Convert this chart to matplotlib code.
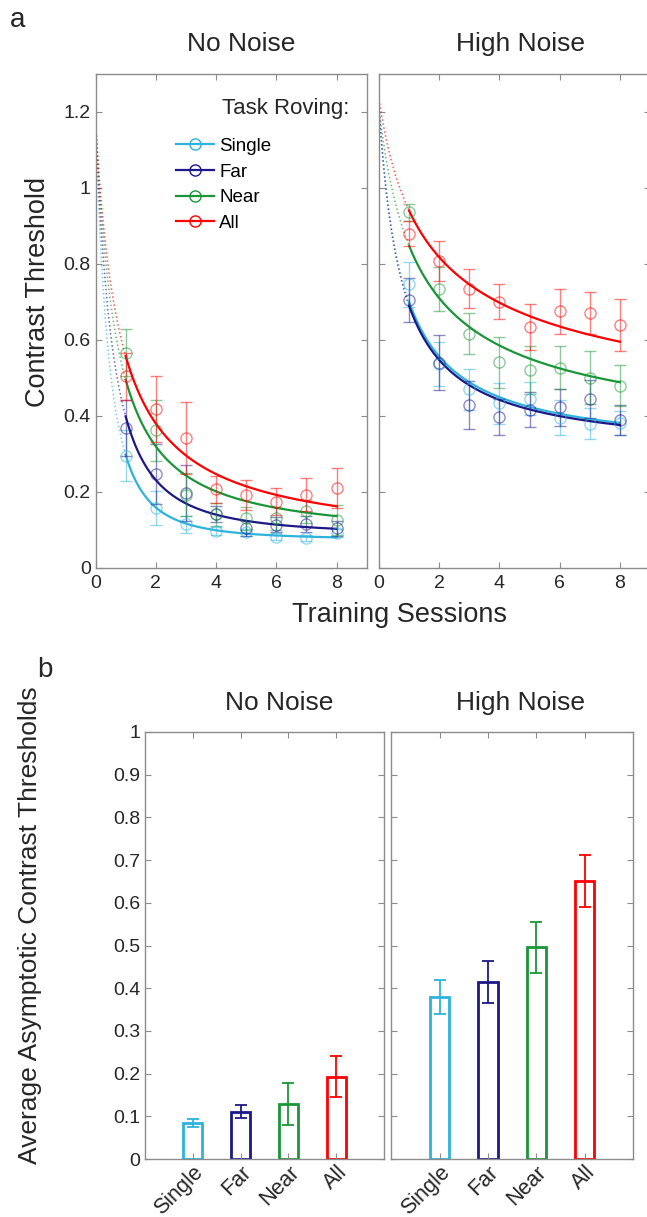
import numpy as np
import matplotlib.pyplot as plt
from matplotlib.ticker import FuncFormatter

plt.rcParams['font.family'] = ['Liberation Sans', 'DejaVu Sans']

conditions = ['Single', 'Far', 'Near', 'All']
colors = ['#2db3dc', '#1c1888', '#1a9638', '#ff0000']
sessions = np.arange(1, 9)

# session means / error bars, No Noise (rows: Single, Far, Near, All)
nn_mean = [[0.294, 0.157, 0.114, 0.096, 0.093, 0.082, 0.079, 0.092],
           [0.368, 0.247, 0.196, 0.141, 0.104, 0.113, 0.115, 0.104],
           [0.566, 0.361, 0.192, 0.140, 0.130, 0.130, 0.148, 0.126],
           [0.504, 0.418, 0.341, 0.206, 0.192, 0.174, 0.192, 0.209]]
nn_err = [[0.067, 0.045, 0.022, 0.010, 0.010, 0.010, 0.008, 0.010],
          [0.074, 0.079, 0.073, 0.020, 0.020, 0.020, 0.020, 0.020],
          [0.061, 0.081, 0.057, 0.030, 0.030, 0.030, 0.030, 0.040],
          [0.062, 0.087, 0.094, 0.035, 0.040, 0.035, 0.044, 0.053]]

# session means / error bars, High Noise
hn_mean = [[0.745, 0.535, 0.469, 0.432, 0.445, 0.394, 0.379, 0.381],
           [0.704, 0.539, 0.428, 0.397, 0.416, 0.422, 0.445, 0.388],
           [0.935, 0.733, 0.616, 0.541, 0.520, 0.526, 0.500, 0.479],
           [0.878, 0.806, 0.734, 0.699, 0.633, 0.674, 0.671, 0.638]]
hn_err = [[0.060, 0.058, 0.053, 0.053, 0.043, 0.046, 0.040, 0.032],
          [0.057, 0.072, 0.064, 0.047, 0.046, 0.048, 0.050, 0.040],
          [0.022, 0.057, 0.054, 0.067, 0.062, 0.057, 0.069, 0.053],
          [0.033, 0.053, 0.052, 0.046, 0.060, 0.058, 0.055, 0.069]]

# learning-curve fit parameters: start value, asymptote, rate, exponent
nn_start = [1.18, 1.18, 1.18, 1.18]
nn_asym = [0.074, 0.085, 0.080, 0.060]
nn_rate = [0.898, 0.870, 1.117, 1.253]
nn_pow = [2.5, 2.0, 1.3, 1.0]
hn_start = [1.21, 1.21, 1.207, 1.232]
hn_asym = [0.300, 0.297, 0.300, 0.300]
hn_rate = [1.28, 1.33, 1.06, 1.127]
hn_pow = [1.0, 1.0, 0.7, 0.5]

# average asymptotic thresholds
bar_nn = [0.084, 0.111, 0.129, 0.193]
bar_nn_err = [0.0095, 0.015, 0.050, 0.048]
bar_hn = [0.380, 0.414, 0.496, 0.651]
bar_hn_err = [0.040, 0.049, 0.060, 0.062]

GRAY = '#8c8c8c'
TXT = '#262626'


def curve(x, y0, a, k, p):
    return a + (y0 - a) * (1 + k * x) ** (-p)


def style(ax):
    for s in ax.spines.values():
        s.set_color(GRAY)
        s.set_linewidth(1.0)
    ax.tick_params(direction='in', top=True, right=True, length=4.5,
                   color=GRAY, labelcolor=TXT, labelsize=14)


fmt = FuncFormatter(lambda v, p: ('%g' % round(v, 2)))

W, H = 647, 1217
fig = plt.figure(figsize=(W / 100, H / 100), dpi=100)


def px_axes(l, t, r, b):
    return fig.add_axes([l / W, 1 - b / H, (r - l) / W, (b - t) / H])


ax1 = px_axes(95.5, 73.5, 366.7, 567.7)
ax2 = px_axes(379, 73.5, 650, 567.7)

xd = np.linspace(0, 1, 60)
xs = np.linspace(1, 8, 200)
for ax, mean, err, y0s, asy, rate, pw in [
        (ax1, nn_mean, nn_err, nn_start, nn_asym, nn_rate, nn_pow),
        (ax2, hn_mean, hn_err, hn_start, hn_asym, hn_rate, hn_pow)]:
    for i, c in enumerate(colors):
        ax.plot(xd, curve(xd, y0s[i], asy[i], rate[i], pw[i]), ':', color=c,
                lw=1.1, alpha=0.65)
        ax.errorbar(sessions, mean[i], yerr=err[i], fmt='o', mfc='none',
                    mec=c, ecolor=c, ms=8, mew=1.0, elinewidth=1.0,
                    capsize=4, capthick=1.0, alpha=0.5)
        ax.plot(xs, curve(xs, y0s[i], asy[i], rate[i], pw[i]), '-', color=c,
                lw=1.6)
    ax.set_xlim(0, 9)
    ax.set_ylim(0, 1.3)
    ax.set_xticks([0, 2, 4, 6, 8])
    ax.set_yticks(np.arange(0, 1.21, 0.2))
    ax.yaxis.set_major_formatter(fmt)
    style(ax)
    ax.tick_params(axis='x', pad=5)
ax2.tick_params(labelleft=False)

handles = [ax1.plot([], [], '-o', color=c, mfc='none', ms=8, mew=1.0,
                    lw=1.6)[0] for c in colors]
ax1.legend(handles, conditions, loc='upper left', bbox_to_anchor=(0.27, 0.885),
           frameon=False, fontsize=13.5, handlelength=2.0, handletextpad=0.3,
           labelspacing=0.45, borderaxespad=0)
ax1.text(0.935, 0.93, 'Task Roving:', transform=ax1.transAxes, ha='right',
         va='center', fontsize=16, color=TXT)

# bottom panels
ax3 = px_axes(145, 732, 384, 1159)
ax4 = px_axes(391.2, 732, 633, 1159)
pos = np.arange(1, 5)
for ax, vals, errs in [(ax3, bar_nn, bar_nn_err), (ax4, bar_hn, bar_hn_err)]:
    ax.bar(pos, vals, width=0.4, facecolor='white', edgecolor=colors, lw=2.0)
    for i, c in enumerate(colors):
        ax.errorbar(pos[i], vals[i], yerr=errs[i], fmt='none', ecolor=c,
                    elinewidth=1.3, capsize=4, capthick=1.3)
    ax.set_xlim(0, 5)
    ax.set_ylim(0, 1)
    ax.set_xticks(pos)
    ax.set_xticklabels(conditions, rotation=45, ha='right',
                       rotation_mode='anchor')
    ax.set_yticks(np.arange(0, 1.01, 0.1))
    ax.yaxis.set_major_formatter(fmt)
    style(ax)
    ax.tick_params(axis='x', labelsize=15.5, pad=2)
ax4.tick_params(labelleft=False)

# labels and titles
fig.text(18 / W, 1 - 20 / H, 'a', fontsize=20, ha='center', va='center', color=TXT)
fig.text(45 / W, 1 - 670 / H, 'b', fontsize=20, ha='center', va='center', color=TXT)
fig.text(241.5 / W, 1 - 44 / H, 'No Noise', fontsize=19, ha='center', va='center', color=TXT)
fig.text(521 / W, 1 - 44 / H, 'High Noise', fontsize=19, ha='center', va='center', color=TXT)
fig.text(279 / W, 1 - 703 / H, 'No Noise', fontsize=19, ha='center', va='center', color=TXT)
fig.text(520 / W, 1 - 703 / H, 'High Noise', fontsize=19, ha='center', va='center', color=TXT)
fig.text(38 / W, 1 - 292 / H, 'Contrast Threshold', fontsize=19.5, rotation=90,
         ha='center', va='center', color=TXT)
fig.text(400 / W, 1 - 615 / H, 'Training Sessions', fontsize=19.5,
         ha='center', va='center', color=TXT)
fig.text(30 / W, 1 - 925 / H, 'Average Asymptotic Contrast Thresholds',
         fontsize=19, rotation=90, ha='center', va='center', color=TXT)

fig.savefig('out.png', dpi=100)
